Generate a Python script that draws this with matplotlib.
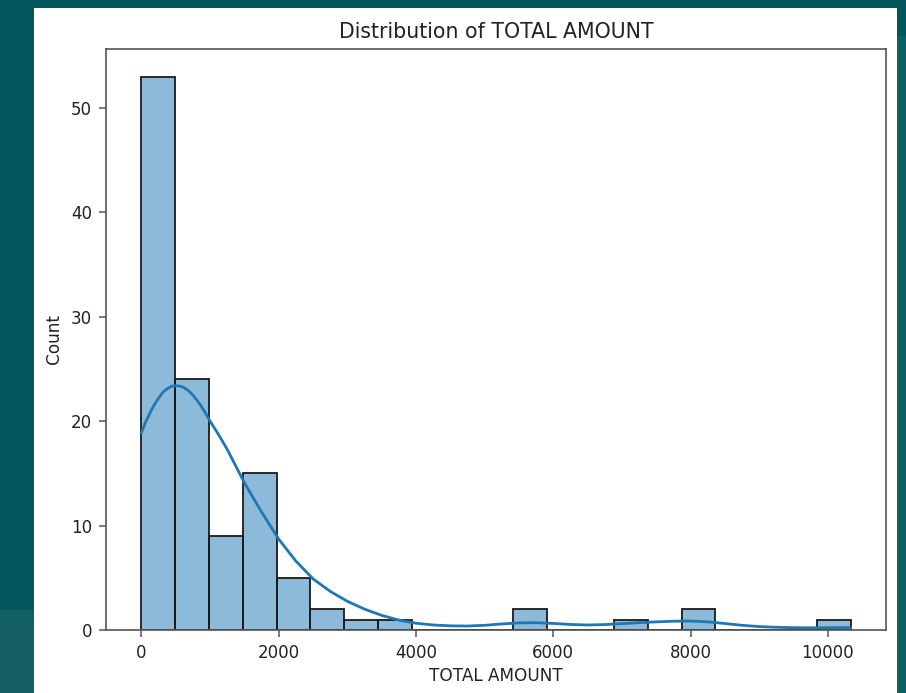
import numpy as np
import matplotlib
matplotlib.use("Agg")
import matplotlib.pyplot as plt
from matplotlib.patches import Rectangle

# histogram: 21 equal bins from 0 to ~10330
bin_lo, bin_hi, n_bins = 0, 10330, 21
counts = [53, 24, 9, 15, 5, 2, 1, 1, 0, 0, 0, 2, 0, 0, 1, 0, 2, 0, 0, 0, 1]

# kde curve (count-scaled)
kde_x = [0, 60, 125, 190, 250, 310, 375, 440, 510, 570, 625, 690, 750, 810,
         875, 940, 1000, 1125, 1250, 1375, 1500, 1625, 1750, 1875, 2000,
         2250, 2500, 2750, 3000, 3250, 3500, 3750, 4000, 4250, 4500, 4750,
         5000, 5250, 5500, 5750, 6000, 6250, 6500, 6750, 7000, 7250, 7500,
         7750, 8000, 8250, 8500, 8750, 9000, 9250, 9500, 9750, 10000, 10330]
kde_y = [18.9, 19.9, 20.8, 21.6, 22.2, 22.75, 23.1, 23.35, 23.4, 23.35, 23.2,
         22.9, 22.5, 22.0, 21.4, 20.7, 20.0, 18.7, 17.3, 15.7, 14.1, 12.7,
         11.3, 10.0, 8.7, 6.6, 4.9, 3.7, 2.75, 2.0, 1.4, 0.95, 0.65, 0.48,
         0.40, 0.38, 0.45, 0.58, 0.68, 0.70, 0.63, 0.53, 0.48, 0.52, 0.61,
         0.70, 0.78, 0.84, 0.86, 0.78, 0.62, 0.45, 0.33, 0.26, 0.22, 0.21,
         0.22, 0.24]

W, H = 906, 693
fig = plt.figure(figsize=(W / 100, H / 100), dpi=100)
fig.patch.set_facecolor("#03565c")

# slide-like background pieces
def px_rect(x0, y0, x1, y1, color):
    fig.patches.append(Rectangle((x0 / W, 1 - y1 / H), (x1 - x0) / W, (y1 - y0) / H,
                                 transform=fig.transFigure, facecolor=color,
                                 edgecolor="none", zorder=-10))

px_rect(0, 610, 34, H, "#135f64")
px_rect(897, 36, W, H, "#0e5f63")
px_rect(34, 8, 897, H, "white")

ax = fig.add_axes([106 / W, 1 - 630 / H, (886 - 106) / W, (630 - 49) / H])
ax.set_facecolor("white")

edges = np.linspace(bin_lo, bin_hi, n_bins + 1)
ax.hist(edges[:-1], bins=edges, weights=counts, color="#1f77b4", alpha=0.5,
        edgecolor="none")
ax.hist(edges[:-1], bins=edges, weights=counts, histtype="bar", fill=False,
        edgecolor="#1a1a1a", linewidth=1.3)
ax.plot(kde_x, kde_y, color="#1f77b4", linewidth=2.0)

ax.set_xlim(-516, 10846)
ax.set_ylim(0, 55.65)
ax.set_xticks([0, 2000, 4000, 6000, 8000, 10000])
ax.set_yticks([0, 10, 20, 30, 40, 50])

for s in ax.spines.values():
    s.set_color("#555555")
    s.set_linewidth(1.2)
ax.tick_params(labelsize=12, length=5, width=1.1, color="#555555",
               labelcolor="#222222", pad=5)

ax.set_title("Distribution of TOTAL AMOUNT", fontsize=14.8, color="#222222", pad=8)
ax.set_xlabel("TOTAL AMOUNT", fontsize=12.2, color="#222222", labelpad=4)
ax.set_ylabel("Count", fontsize=12.2, color="#222222", labelpad=6)

fig.savefig("out.png", dpi=100, facecolor=fig.get_facecolor())
